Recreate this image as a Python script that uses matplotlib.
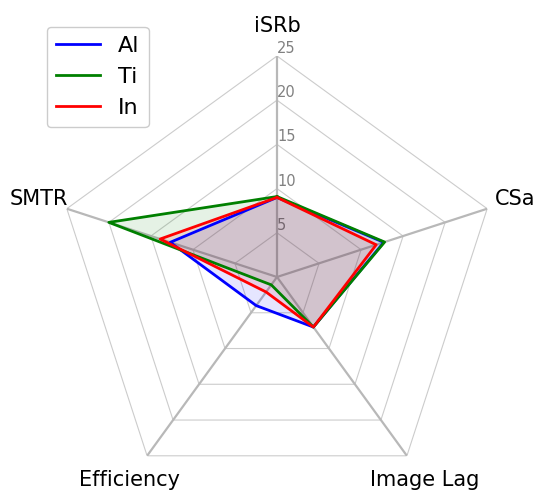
import matplotlib
matplotlib.use("Agg")
from matplotlib import pyplot as plt
import numpy as np

# radar chart comparing the three electrode materials

categories = ["iSRb", "CSa", "Image Lag", "Efficiency", "SMTR"]
series_names = ["Al", "Ti", "In"]
series_colors = ["blue", "green", "red"]
al_values = [9.0, 12.7, 7.0, 4.0, 12.7]
ti_values = [9.1, 12.8, 7.0, 1.1, 20.0]
in_values = [9.0, 11.8, 7.0, 2.1, 13.9]
ring_levels = [5, 10, 15, 20, 25]
r_max = 25

def closed(vals):
    return list(vals) + [vals[0]]

angles = np.linspace(0, 2 * np.pi, len(categories), endpoint=False)
angles_closed = closed(list(angles))

fig = plt.figure(figsize=(5.37, 4.97), dpi=100)
ax = fig.add_axes([56 / 537, -1 / 497, 442 / 537, 442 / 497], projection="polar")
ax.set_theta_offset(np.pi / 2)
ax.set_theta_direction(-1)
ax.set_ylim(0, r_max)

# pentagon rings instead of circles
ax.spines["polar"].set_visible(False)
ax.yaxis.grid(False)
for level in ring_levels:
    ax.plot(angles_closed, [level] * len(angles_closed), color="#cccccc",
            lw=0.8, zorder=1)

ax.set_xticks(angles)
ax.set_xticklabels(categories, fontsize=15)
ax.tick_params(axis="x", pad=11)
ax.xaxis.grid(True, color="#b8b8b8", lw=1.6)

ax.set_rlabel_position(0)
ax.set_yticks(ring_levels)
ax.set_yticklabels([str(v) for v in ring_levels], color="grey", fontsize=10.5)

for name, color, vals in zip(series_names, series_colors,
                             [al_values, ti_values, in_values]):
    ax.plot(angles_closed, closed(vals), color=color, lw=2, label=name, zorder=3)
    ax.fill(angles_closed, closed(vals), color=color, alpha=0.1, zorder=2)

ax.legend(loc="upper left", bbox_to_anchor=(47 / 537, 1 - 27 / 497),
          bbox_transform=fig.transFigure, borderaxespad=0, fontsize=16,
          framealpha=1)

plt.savefig("out.png", dpi=100)
